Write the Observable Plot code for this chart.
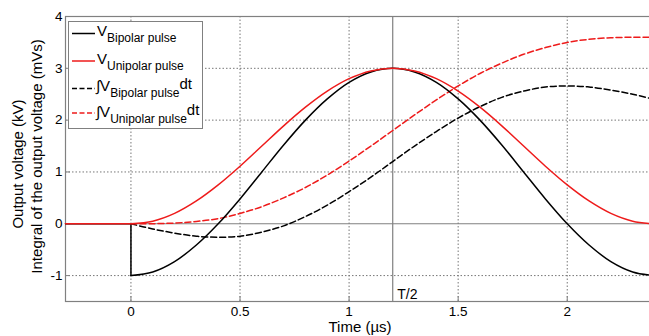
<!DOCTYPE html>
<html><head><meta charset="utf-8">
<script src="https://cdn.jsdelivr.net/npm/d3@7"></script>
<script src="https://cdn.jsdelivr.net/npm/@observablehq/plot@0.6"></script>
<style>
html,body{margin:0;padding:0;background:#fff;overflow:hidden}
#wrap{position:relative;width:654px;height:336px}
#wrap svg{display:block;max-width:none}
#legend{position:absolute;left:0;top:0}
</style>
</head><body><div id="wrap"></div>
<script>
// Time samples (µs)
const time = [0,0.1,0.2,0.3,0.4,0.5,0.6,0.7,0.8,0.9,1.0,1.1,1.2,1.3,1.4,1.5,1.6,1.7,1.8,1.9,2.0,2.1,2.2,2.3,2.4];
// Output voltages (kV)
const vBipolar = [-1,-0.93,-0.73,-0.41,0,0.48,1,1.52,2,2.41,2.73,2.93,3,2.93,2.73,2.41,2,1.52,1,0.48,0,-0.41,-0.73,-0.93,-1];
const vUnipolar = [0,0.05,0.2,0.44,0.75,1.11,1.5,1.89,2.25,2.56,2.8,2.95,3,2.95,2.8,2.56,2.25,1.89,1.5,1.11,0.75,0.44,0.2,0.05,0];
// Integrals (mVs)
const intBipolar = [0,-0.1,-0.18,-0.24,-0.26,-0.24,-0.16,-0.04,0.14,0.36,0.62,0.9,1.2,1.5,1.78,2.04,2.26,2.44,2.56,2.64,2.66,2.64,2.58,2.5,2.4];
const intUnipolar = [0,0.002,0.014,0.045,0.1,0.2,0.33,0.5,0.7,0.94,1.21,1.5,1.8,2.1,2.39,2.66,2.9,3.1,3.27,3.4,3.5,3.56,3.59,3.6,3.6];
// Lead-in before the pulse
const leadTime = [-0.3, 0];
const leadValue = [0, 0];
const stepTime = [0, 0];
const stepValue = [0, -1];
// Ticks
const xTicks = [0, 0.5, 1, 1.5, 2];
const yTicks = [-1, 0, 1, 2, 3, 4];
const halfPeriod = 1.2;
const labels = ["Bipolar pulse", "Unipolar pulse", "Bipolar pulse", "Unipolar pulse"];

const RED = "#ee1b1b";
const GRAY = "#808080";
const zip = (xs, ys) => xs.map((x, i) => ({x, y: ys[i]}));

const lw = 1.5;
const plot = Plot.plot({
  width: 654, height: 336,
  marginLeft: 65, marginRight: 0, marginTop: 16, marginBottom: 35,
  x: {domain: [-0.3, 2.4], label: null},
  y: {domain: [-1.5, 4], label: null},
  style: {fontFamily: "'Liberation Sans', Arial, sans-serif", background: "#fff", color: "#000"},
  marks: [
    Plot.gridX(xTicks, {stroke: "#777", strokeOpacity: 1, strokeDasharray: "1.5,2"}),
    Plot.gridY(yTicks.filter(d => d !== 0 && d !== 4), {stroke: "#777", strokeOpacity: 1, strokeDasharray: "1.5,2"}),
    Plot.ruleY([0], {stroke: GRAY, strokeWidth: 1.2}),
    Plot.ruleX([halfPeriod], {stroke: GRAY, strokeWidth: 1.2}),
    Plot.ruleX(xTicks, {y1: -1.5, y2: -1.404, stroke: GRAY}),
    Plot.ruleY(yTicks.slice(0, 5), {x1: -0.3, x2: -0.277, stroke: GRAY}),
    Plot.frame({stroke: GRAY, strokeWidth: 1.2}),
    Plot.axisX(xTicks, {tickSize: 0, tickPadding: 5, fontSize: 13.5, tickFormat: d => String(d), label: null}),
    Plot.axisY(yTicks, {tickSize: 0, tickPadding: 3, fontSize: 13.5, tickFormat: d => String(d), label: null}),
    Plot.text(["T/2"], {x: halfPeriod, y: -1.5, text: d => d, textAnchor: "start", lineAnchor: "middle", dx: 4.5, dy: -7, fontSize: 14}),
    Plot.text(["Time (µs)"], {frameAnchor: "bottom", text: d => d, textAnchor: "middle", lineAnchor: "middle", dy: 26, fontSize: 15}),
    Plot.text(["Output voltage (kV)"], {frameAnchor: "left", text: d => d, textAnchor: "middle", lineAnchor: "middle", dx: -47, dy: 5, rotate: -90, fontSize: 15}),
    Plot.text(["Integral of the output voltage (mVs)"], {frameAnchor: "left", text: d => d, textAnchor: "middle", lineAnchor: "middle", dx: -28, dy: -2.5, rotate: -90, fontSize: 15}),
    // integrals (dashed)
    Plot.line(zip(time, intBipolar), {x: "x", y: "y", stroke: "#000", strokeWidth: lw, strokeDasharray: "6,3", curve: "catmull-rom"}),
    Plot.line(zip(time, intUnipolar), {x: "x", y: "y", stroke: RED, strokeWidth: lw, strokeDasharray: "6,3", curve: "catmull-rom"}),
    // voltages
    Plot.line(zip(leadTime, leadValue), {x: "x", y: "y", stroke: "#000", strokeWidth: lw}),
    Plot.line(zip(stepTime, stepValue), {x: "x", y: "y", stroke: "#000", strokeWidth: lw}),
    Plot.line(zip(time, vBipolar), {x: "x", y: "y", stroke: "#000", strokeWidth: lw, curve: "catmull-rom"}),
    Plot.line(zip(leadTime, leadValue), {x: "x", y: "y", stroke: RED, strokeWidth: lw}),
    Plot.line(zip(time, vUnipolar), {x: "x", y: "y", stroke: RED, strokeWidth: lw, curve: "catmull-rom"})
  ]
});
plot.style.maxWidth = "none";
document.getElementById("wrap").appendChild(plot);

// Legend overlay
const svg = d3.select("#wrap").append("svg").attr("id", "legend")
  .attr("width", 654).attr("height", 336)
  .style("font-family", "'Liberation Sans', Arial, sans-serif");
svg.append("rect").attr("x", 68.5).attr("y", 21.5).attr("width", 134).attr("height", 107)
  .attr("fill", "#fff").attr("stroke", GRAY);
const rows = [
  {ly: 33.5, by: 36, color: "#000", dash: null, integ: false},
  {ly: 61, by: 63.5, color: RED, dash: null, integ: false},
  {ly: 88.5, by: 90.5, color: "#000", dash: "5,2.5", integ: true},
  {ly: 113, by: 116.5, color: RED, dash: "5,2.5", integ: true}
];
rows.forEach((r, i) => {
  const ln = svg.append("line").attr("x1", 72).attr("x2", 95).attr("y1", r.ly).attr("y2", r.ly)
    .attr("stroke", r.color).attr("stroke-width", lw);
  if (r.dash) ln.attr("stroke-dasharray", r.dash);
  const t = svg.append("text").attr("x", r.integ ? 96 : 97).attr("y", r.by).attr("fill", "#000");
  t.append("tspan").attr("font-size", 15).text(r.integ ? "∫V" : "V");
  t.append("tspan").attr("font-size", 12).attr("dy", 6).text(labels[i]);
  if (r.integ) t.append("tspan").attr("font-size", 15).attr("dy", -8).text("dt");
});
</script></body></html>
